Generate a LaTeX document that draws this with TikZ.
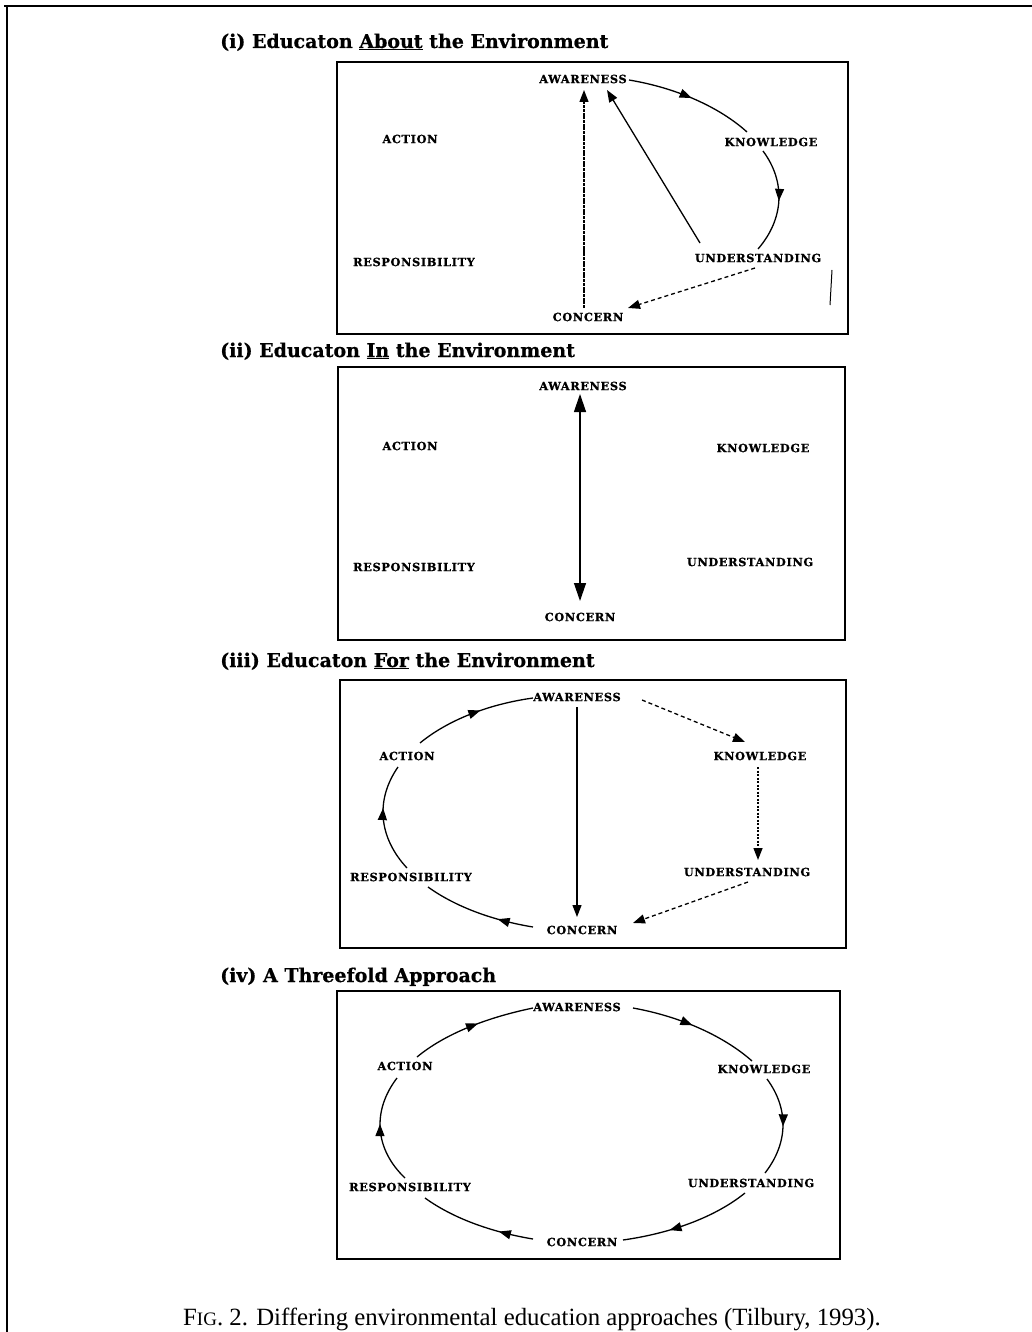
\documentclass[tikz,border=0pt]{standalone}
\usepackage{fontspec}
\setmainfont{Liberation Serif}
\newfontfamily\titfont[FakeBold=0.6]{DejaVu Serif}
\newfontfamily\labfont[LetterSpace=6,FakeBold=0.8]{DejaVu Serif}
\usetikzlibrary{arrows.meta,decorations.markings}
\begin{document}
\begin{tikzpicture}[x=1pt,y=-1pt,
  lab/.style={font=\labfont\bfseries\fontsize{11.3}{13}\selectfont, inner sep=0pt},
  ttl/.style={font=\titfont\bfseries\fontsize{19}{22}\selectfont, anchor=base west, inner sep=0pt},
  boxframe/.style={draw, line width=1.6pt},
  con/.style={line width=1.3pt},
  tipend/.style={-{Triangle[length=12pt,width=9pt]}},
  bigtips/.style={{Triangle[length=18pt,width=12pt]}-{Triangle[length=18pt,width=12pt]}},
  dashline/.style={dash pattern=on 4pt off 3pt},
  dotline/.style={dash pattern=on 2pt off 1.5pt},
  midarrow/.style={postaction={decorate,decoration={markings,mark=at position #1 with {\arrow{Triangle[length=12pt,width=9pt]}}}}}
]
\useasboundingbox (0,0) rectangle (1032,1332);
% outer frame (top and left)
\draw[line width=2.5pt] (4,6) -- (1032,6);
\draw[line width=2.5pt] (7,6) -- (7,1332);

% ---------- titles ----------
\node[ttl] (t1) at (220,48) {(i) Educaton \underline{About} the Environment};
\node[ttl] (t2) at (220,357) {(ii) Educaton \underline{In} the Environment};
\node[ttl] (t3) at (220,667) {(iii) Educaton \underline{For} the Environment};
\node[ttl] (t4) at (220,982) {(iv) A Threefold Approach};

% ---------- boxes ----------
\draw[boxframe] (337,62) rectangle (848,334);
\draw[boxframe] (338,367) rectangle (845,640);
\draw[boxframe] (340,680) rectangle (846,948);
\draw[boxframe] (337,991) rectangle (840,1259);

% ---------- box 1 ----------
\node[lab] (aw1) at (583,79) {AWARENESS};
\node[lab] (ac1) at (410,139) {ACTION};
\node[lab] (kn1) at (771,142) {KNOWLEDGE};
\node[lab] (re1) at (414,262) {RESPONSIBILITY};
\node[lab] (un1) at (758,258) {UNDERSTANDING};
\node[lab] (co1) at (588,317) {CONCERN};
\draw[con,midarrow=0.5] ([shift={(46,1)}]aw1.center) .. controls (677,88) and (719.7,107.3) .. ([shift={(-24,-10)}]kn1.center);
\draw[con,midarrow=0.5] ([shift={(-8,9)}]kn1.center) .. controls (786,182) and (784,219) .. ([shift={(0,-9)}]un1.center);
\draw[con,tipend] ([shift={(-58,-15)}]un1.center) -- ([shift={(24,11)}]aw1.center);
\draw[con,tipend,dash pattern=on 3pt off 0.7pt] ([shift={(-4,-9)}]co1.center) -- ([shift={(1,11)}]aw1.center);
\draw[con,tipend,dashline] ([shift={(-3,10)}]un1.center) -- ([shift={(40,-9)}]co1.center);
\draw[line width=1pt] (832,270) -- (830,305);

% ---------- box 2 ----------
\node[lab] (aw2) at (583,386) {AWARENESS};
\node[lab] (ac2) at (410,446) {ACTION};
\node[lab] (kn2) at (763,448) {KNOWLEDGE};
\node[lab] (re2) at (414,567) {RESPONSIBILITY};
\node[lab] (un2) at (750,562) {UNDERSTANDING};
\node[lab] (co2) at (580,617) {CONCERN};
\draw[con,bigtips] ([shift={(-3,8)}]aw2.center) -- ([shift={(0,-16)}]co2.center);

% ---------- box 3 ----------
\node[lab] (aw3) at (577,697) {AWARENESS};
\node[lab] (ac3) at (407,756) {ACTION};
\node[lab] (kn3) at (760,756) {KNOWLEDGE};
\node[lab] (re3) at (411,877) {RESPONSIBILITY};
\node[lab] (un3) at (747,872) {UNDERSTANDING};
\node[lab] (co3) at (582,930) {CONCERN};
\draw[con,tipend] ([shift={(0,10)}]aw3.center) -- ([shift={(-5,-13)}]co3.center);
\draw[con,tipend,dashline] ([shift={(65,3)}]aw3.center) -- ([shift={(-15,-14)}]kn3.center);
\draw[con,tipend,dotline] ([shift={(-2,11)}]kn3.center) -- ([shift={(11,-12)}]un3.center);
\draw[con,tipend,dashline] ([shift={(1,10)}]un3.center) -- ([shift={(51,-7)}]co3.center);
\draw[con,midarrow=0.32] ([shift={(-49,-3)}]co3.center) .. controls (492.3,920.3) and (455.5,906.7) .. ([shift={(17,10)}]re3.center);
\draw[con,midarrow=0.6] ([shift={(-4,-9)}]re3.center) .. controls (378.6,837.5) and (375.1,800) .. ([shift={(-9,11)}]ac3.center);
\draw[con,midarrow=0.56] ([shift={(13,-13)}]ac3.center) .. controls (447.5,720.4) and (487.8,704.3) .. ([shift={(-44,1)}]aw3.center);

% ---------- box 4 ----------
\node[lab] (aw4) at (577,1007) {AWARENESS};
\node[lab] (ac4) at (405,1066) {ACTION};
\node[lab] (kn4) at (764,1069) {KNOWLEDGE};
\node[lab] (re4) at (410,1187) {RESPONSIBILITY};
\node[lab] (un4) at (751,1183) {UNDERSTANDING};
\node[lab] (co4) at (582,1242) {CONCERN};
\draw[con,midarrow=0.47] ([shift={(56,1)}]aw4.center) .. controls (683,1017) and (725.4,1037.4) .. ([shift={(-12,-8)}]kn4.center);
\draw[con,midarrow=0.5] ([shift={(3,10)}]kn4.center) .. controls (789,1108.9) and (788.3,1143) .. ([shift={(14,-10)}]un4.center);
\draw[con,midarrow=0.64] ([shift={(-6,10)}]un4.center) .. controls (715.7,1216.6) and (672.3,1233) .. ([shift={(41,-2)}]co4.center);
\draw[con,midarrow=0.3] ([shift={(-49,-3)}]co4.center) .. controls (490.3,1231.9) and (452.4,1217.8) .. ([shift={(15,11)}]re4.center);
\draw[con,midarrow=0.55] ([shift={(-5,-9)}]re4.center) .. controls (374.9,1149.3) and (371.7,1111.1) .. ([shift={(-8,12)}]ac4.center);
\draw[con,midarrow=0.55] ([shift={(12,-9)}]ac4.center) .. controls (444.3,1034.3) and (485.7,1017.8) .. ([shift={(-44,1)}]aw4.center);

% ---------- caption ----------
\node[anchor=base west, inner sep=0pt, font=\fontsize{24.8}{28}\selectfont] (cap) at (183,1325)
  {F{\fontsize{19}{22}\selectfont IG}. 2. Differing environmental education approaches (Tilbury, 1993).};
\end{tikzpicture}
\end{document}
